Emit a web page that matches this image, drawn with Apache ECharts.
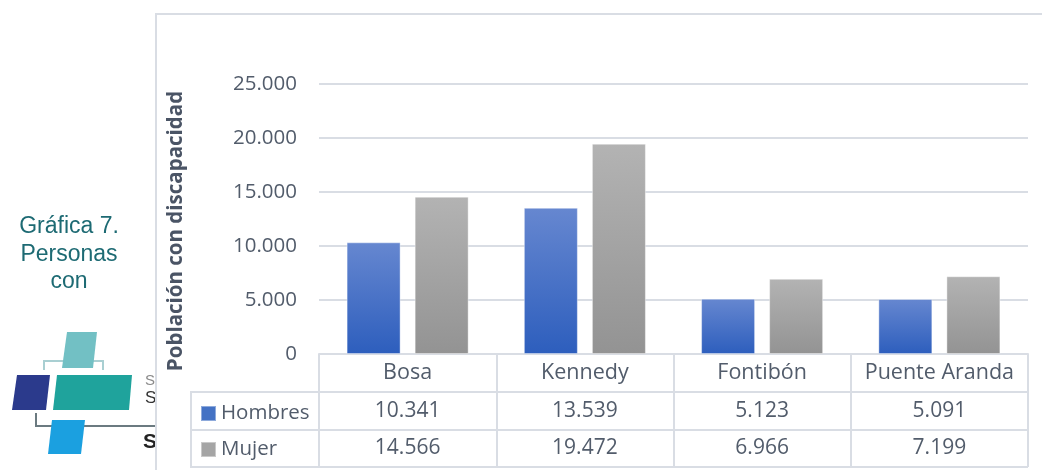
<!DOCTYPE html>
<html>
<head>
<meta charset="utf-8">
<script src="https://cdn.jsdelivr.net/npm/echarts@6/dist/echarts.min.js"></script>
<style>
html,body{margin:0;padding:0;background:#fff;}
#c{width:1042px;height:470px;}
</style>
</head>
<body>
<div id="c"></div>
<script>
var categories = ['Bosa', 'Kennedy', 'Fontibón', 'Puente Aranda'];
var hombres = [10341, 13539, 5123, 5091];
var mujer = [14566, 19472, 6966, 7199];
var yTicks = [0, 5000, 10000, 15000, 20000, 25000];
var seriesNames = ['Hombres', 'Mujer'];
var yTitle = 'Población con discapacidad';
var sideTitle = 'Gráfica 7.\nPersonas\ncon';

function fmt(v) {
  return String(v).replace(/\B(?=(\d{3})+(?!\d))/g, '.');
}

var FONT = 'Open Sans';
var TXT = '#525c6b';
var LINE = '#d9dde4';
var FS = 21;

var chart = echarts.init(document.getElementById('c'), null, {renderer: 'canvas'});

function grad(top, bottom) {
  return new echarts.graphic.LinearGradient(0, 0, 0, 1, [
    {offset: 0, color: top}, {offset: 1, color: bottom}
  ]);
}

var gridLeft = 319, gridRight = 1028, gridTop = 84, gridBottomY = 354;

var option = {
  animation: false,
  backgroundColor: '#ffffff',
  grid: {left: gridLeft, right: 1042 - gridRight, top: gridTop, bottom: 470 - gridBottomY, containLabel: false},
  legend: {
    orient: 'vertical',
    left: 200,
    top: 403,
    padding: 0,
    itemWidth: 15,
    itemHeight: 15,
    itemGap: 15,
    icon: 'rect',
    selectedMode: false,
    textStyle: {fontFamily: FONT, fontSize: 20.5, color: TXT, lineHeight: 21},
    data: [
      {name: seriesNames[0], itemStyle: {color: '#4472c4'}},
      {name: seriesNames[1], itemStyle: {color: '#a5a5a5'}}
    ]
  },
  xAxis: [
    {
      type: 'category',
      data: categories,
      position: 'bottom',
      axisLine: {show: true, lineStyle: {color: LINE, width: 2}},
      axisTick: {show: true, interval: 0, length: 113, lineStyle: {color: LINE, width: 2}},
      axisLabel: {fontFamily: FONT, fontSize: 21.5, color: TXT, margin: 19, verticalAlign: 'middle', interval: 0}
    },
    {
      type: 'category',
      data: hombres.map(fmt),
      position: 'bottom',
      offset: 38,
      axisLine: {show: false},
      axisTick: {show: false},
      axisLabel: {fontFamily: FONT, fontSize: FS, color: TXT, margin: 19, verticalAlign: 'middle', interval: 0}
    },
    {
      type: 'category',
      data: mujer.map(fmt),
      position: 'bottom',
      offset: 76,
      axisLine: {show: false},
      axisTick: {show: false},
      axisLabel: {fontFamily: FONT, fontSize: FS, color: TXT, margin: 18, verticalAlign: 'middle', interval: 0}
    }
  ],
  yAxis: {
    type: 'value',
    min: yTicks[0],
    max: yTicks[yTicks.length - 1],
    interval: yTicks[1] - yTicks[0],
    axisLine: {show: false},
    axisTick: {show: false},
    splitLine: {show: true, lineStyle: {color: LINE, width: 2}},
    axisLabel: {fontFamily: FONT, fontSize: 20.5, color: TXT, margin: 22, formatter: function (v) { return fmt(v); }}
  },
  series: [
    {
      name: seriesNames[0],
      type: 'bar',
      data: hombres,
      barWidth: 54,
      barGap: '26%',
      itemStyle: {color: grad('#6687d0', '#2d5ebd'), borderColor: 'rgba(255,255,255,0.4)', borderWidth: 1}
    },
    {
      name: seriesNames[1],
      type: 'bar',
      data: mujer,
      barWidth: 54,
      barGap: '26%',
      itemStyle: {color: grad('#b3b3b3', '#939393'), borderColor: 'rgba(255,255,255,0.4)', borderWidth: 1}
    }
  ],
  graphic: [
    // chart box
    {type: 'rect', z: -5, shape: {x: 156, y: 14, width: 1000, height: 500}, style: {fill: '#ffffff', stroke: LINE, lineWidth: 2}},
    // y axis title
    {type: 'text', z: 2, x: 176, y: 231, rotation: Math.PI / 2, style: {text: yTitle, fontFamily: FONT, fontSize: 20.5, fontWeight: 'bold', fill: '#4a5465', align: 'center', verticalAlign: 'middle'}},
    // table lines (left legend column & row separators)
    {type: 'line', z: 1, shape: {x1: 191, y1: 392, x2: 1028, y2: 392}, style: {stroke: LINE, lineWidth: 2}},
    {type: 'line', z: 1, shape: {x1: 191, y1: 430, x2: 1028, y2: 430}, style: {stroke: LINE, lineWidth: 2}},
    {type: 'line', z: 1, shape: {x1: 191, y1: 467, x2: 1028, y2: 467}, style: {stroke: LINE, lineWidth: 2}},
    {type: 'line', z: 1, shape: {x1: 191, y1: 391, x2: 191, y2: 468}, style: {stroke: LINE, lineWidth: 2}},
    // side title
    {type: 'text', z: -10, x: 69, y: 213, style: {text: sideTitle, fontFamily: 'Liberation Sans', fontSize: 23, lineHeight: 27.5, fill: '#1d6a73', align: 'center', verticalAlign: 'top'}},
    // logo
    {type: 'polyline', z: -10, shape: {points: [[44, 370], [44, 361], [103, 361], [103, 370]]}, style: {stroke: '#a9cfd2', lineWidth: 2, fill: null}},
    {type: 'polygon', z: -9, shape: {points: [[67, 332], [97, 332], [93, 368], [62, 368]]}, style: {fill: '#72c0c4'}},
    {type: 'polygon', z: -10, shape: {points: [[17, 375], [50, 375], [46, 410], [12, 410]]}, style: {fill: '#2b3a8c'}},
    {type: 'polygon', z: -10, shape: {points: [[57, 375], [132, 375], [129, 410], [53, 410]]}, style: {fill: '#1fa39c'}},
    {type: 'polyline', z: -10, shape: {points: [[36, 413], [36, 426], [156, 426]]}, style: {stroke: '#6b7a80', lineWidth: 2, fill: null}},
    {type: 'polygon', z: -9, shape: {points: [[52, 420], [85, 420], [81, 454], [48, 454]]}, style: {fill: '#1ba0e0'}},
    {type: 'text', z: -10, x: 145, y: 373, style: {text: 'S', fontFamily: 'Liberation Sans', fontSize: 15, fill: '#8a8a8a'}},
    {type: 'text', z: -10, x: 145, y: 390, style: {text: 'S', fontFamily: 'Liberation Sans', fontSize: 17, fill: '#333333'}},
    {type: 'text', z: -10, x: 143, y: 432, style: {text: 'S', fontFamily: 'Liberation Sans', fontSize: 21, fontWeight: 'bold', fill: '#222222'}}
  ]
};
chart.setOption(option);
</script>
</body>
</html>
